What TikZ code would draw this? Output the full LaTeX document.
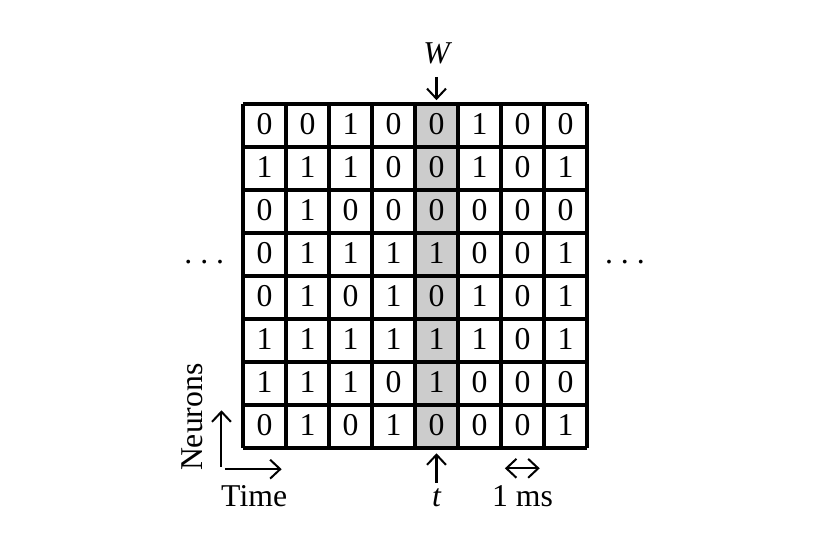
\documentclass[tikz,border=0pt]{standalone}
\usepackage{fontspec}
\setmainfont{Liberation Serif}
\usetikzlibrary{arrows.meta}
\begin{document}
\begin{tikzpicture}[x=0.6cm, y=0.6cm,
  every node/.style={font=\fontsize{12.6}{15}\selectfont, inner sep=0pt},
  cell/.style={text height=0.68em, text depth=0pt},
  arr/.style={line width=0.8pt, -{Straight Barb[length=4pt,width=7.5pt]}},
  darr/.style={line width=0.8pt, {Straight Barb[length=4pt,width=7.5pt]}-{Straight Barb[length=4pt,width=7.5pt]}}]
  \useasboundingbox (-5.65,-2.465) rectangle (13.65,10.42);
  % Highlighted time step column
  \fill[gray!40] (4,0) rectangle (5,8);
  \draw[line width=1.3pt, step=1] (0,0) grid (8,8);
  % Spike values, one row per neuron
  \foreach \row [count=\r from 0] in {{0,0,1,0,0,1,0,0},{1,1,1,0,0,1,0,1},{0,1,0,0,0,0,0,0},{0,1,1,1,1,0,0,1},{0,1,0,1,0,1,0,1},{1,1,1,1,1,1,0,1},{1,1,1,0,1,0,0,0},{0,1,0,1,0,0,0,1}} {
    \foreach \v [count=\c from 0] in \row {
      \node[cell] (c-\r-\c) at (\c+0.5,7.5-\r) {\v};
    }
  }
  \node[cell] (dotsL) at (-0.9,4.5) {.\kern0.25em.\kern0.25em.};
  \node[cell] (dotsR) at (8.88,4.5) {.\kern0.25em.\kern0.25em.};
  % Window arrow
  \node[anchor=base] (W) at (4.5,8.95) {\itshape W};
  \coordinate (Wtop) at (4.5,8.63);
  \coordinate (Wtip) at (4.5,8.09);
  \draw[arr] (Wtop) -- (Wtip);
  % Current time step
  \node[anchor=base] (t) at (4.5,-1.35) {\itshape t};
  \coordinate (tbot) at (4.5,-0.81);
  \coordinate (ttip) at (4.5,-0.12);
  \draw[arr] (tbot) -- (ttip);
  % Axes
  \coordinate (tx0) at (-0.42,-0.49);
  \coordinate (tx1) at (0.9,-0.49);
  \coordinate (ny0) at (-0.5,-0.43);
  \coordinate (ny1) at (-0.5,0.88);
  \draw[arr] (tx0) -- (tx1);
  \draw[arr] (ny0) -- (ny1);
  \node[anchor=base] (time) at (0.26,-1.35) {Time};
  \node[anchor=base, rotate=90] (neurons) at (-0.93,0.72) {Neurons};
  % Bin width
  \coordinate (ms0) at (6.09,-0.47);
  \coordinate (ms1) at (6.9,-0.47);
  \draw[darr] (ms0) -- (ms1);
  \node[anchor=base] (ms) at (6.5,-1.35) {1 ms};
\end{tikzpicture}
\end{document}
